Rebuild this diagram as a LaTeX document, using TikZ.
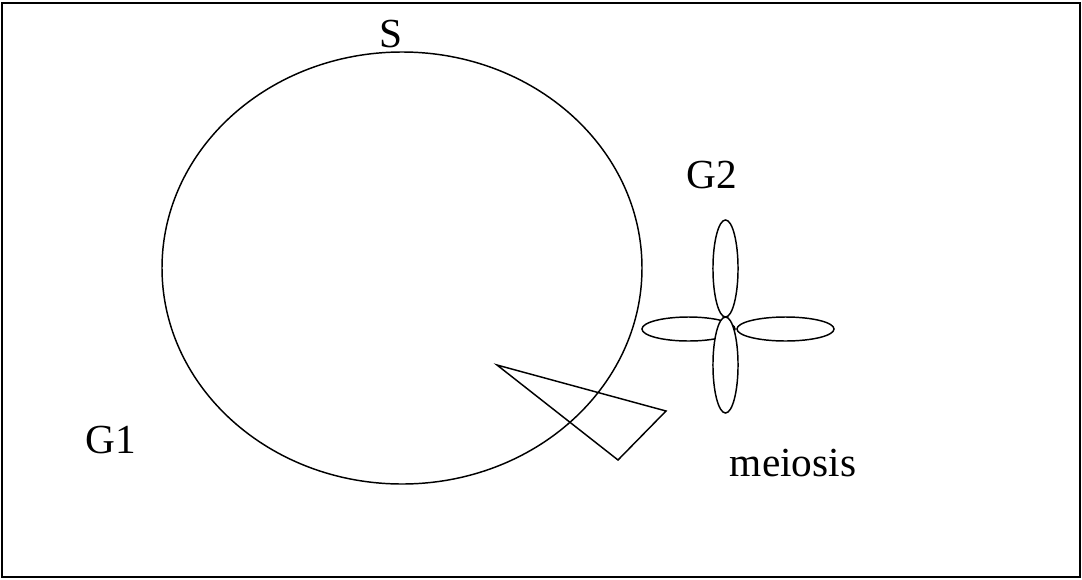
\documentclass[tikz,border=0pt]{standalone}
\usepackage{fontspec}
\setmainfont{Liberation Serif}
\begin{document}
\begin{tikzpicture}[x=0.75pt,y=-0.75pt,
  line/.style={draw=black,line width=1.1pt},
  petal/.style={line,fill=white},
  lbl/.style={font=\fontsize{31}{36}\selectfont,inner sep=0pt,anchor=base}]
\useasboundingbox (0,0) rectangle (1082,579);
\draw[draw=black,line width=1.5pt] (2,3) rectangle (1080,577);
% big cycle
\draw[line] (402,268) ellipse [x radius=180pt, y radius=162pt];
% triangle
\draw[line,line join=miter] (497,365) -- (666,411) -- (618,460) -- cycle;
% petals
\draw[petal] (688.5,329) ellipse [x radius=34.9pt, y radius=9pt];
\draw[petal] (785.5,329) ellipse [x radius=36.4pt, y radius=9pt];
\draw[petal] (725.5,268.5) ellipse [x radius=9.4pt, y radius=36.4pt];
\draw[petal] (725.5,365) ellipse [x radius=9.4pt, y radius=36pt];
% labels
\node[lbl] (s) at (391,47) {S};
\node[lbl] (g2) at (712,188) {G2};
\node[lbl] (g1) at (111,453) {G1};
\node[lbl] (mei) at (793,476) {meiosis};
\end{tikzpicture}
\end{document}
